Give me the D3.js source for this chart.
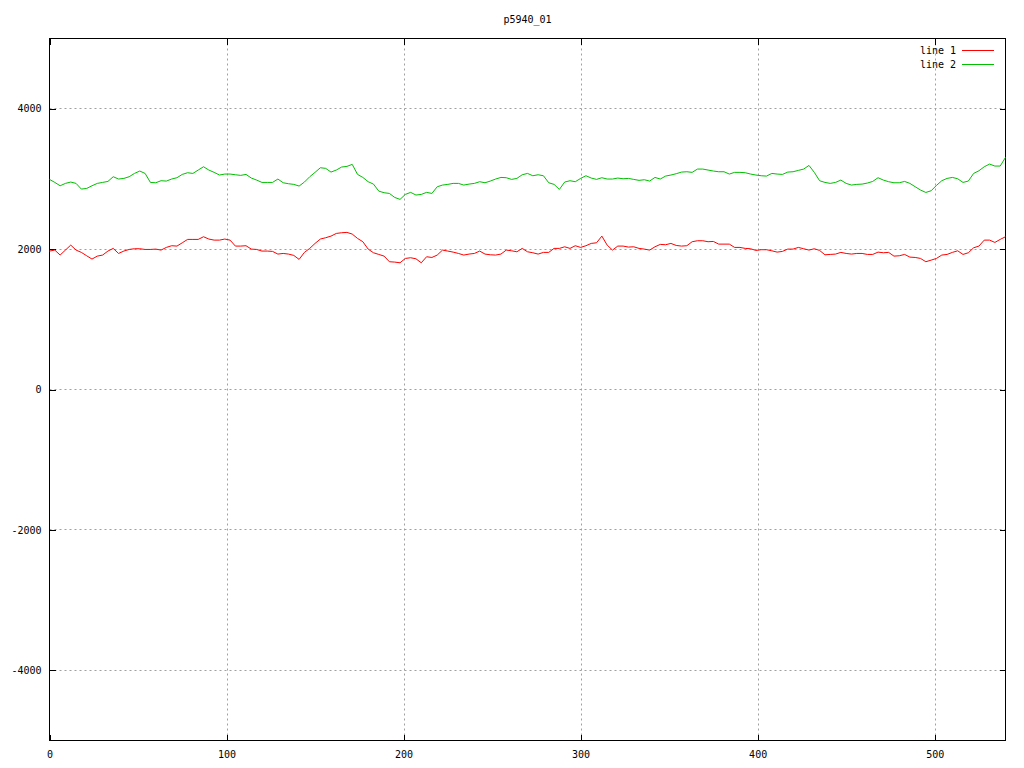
<!DOCTYPE html>
<html>
<head>
<meta charset="utf-8">
<script src="https://cdn.jsdelivr.net/npm/d3@7"></script>
<style>
  html, body { margin: 0; padding: 0; background: #fff; }
  svg { display: block; }
  text { font-family: "DejaVu Sans Mono", "Liberation Mono", monospace; font-size: 10px; fill: #000; }
</style>
</head>
<body>
<svg id="chart" width="1024" height="768"></svg>
<script>
const title = "p5940_01";
const seriesNames = ["line 1", "line 2"];
const xStep = 3;
const line1 = [
  1972,1986,1915,1986,2057,1986,1953,1905,1858,1900,1915,1972,2010,1938,1972,1995,2005,2005,1995,1995,
  2000,1986,2024,2048,2043,2090,2138,2138,2138,2176,
  2143,2128,2128,2143,2128,2043,2043,2048,2000,1995,1972,1972,1967,1929,1938,1929,1910,1853,1953,2010,
  2081,2143,2162,2185,2223,2233,2238,2214,2152,2105,
  2000,1948,1924,1900,1820,1815,1805,1867,1877,1862,1805,1891,1881,1915,1986,1972,1957,1938,1915,1929,
  1938,1972,1929,1919,1915,1929,1986,1976,1962,2010,
  1962,1948,1929,1953,1953,2010,2010,2033,2010,2048,2024,2048,2081,2090,2185,2057,1986,2043,2043,2029,
  2033,2010,2000,1986,2033,2067,2062,2081,2052,2043,
  2048,2105,2119,2119,2105,2109,2071,2071,2071,2024,2024,2010,2005,1981,1991,1991,1976,1957,1967,2000,
  2000,2024,2005,1986,2005,1981,1919,1924,1929,1953,1938,
  1929,1938,1938,1924,1924,1957,1948,1953,1900,1905,1924,1886,1881,1867,1820,1843,1867,1915,1924,1953,
  1976,1924,1948,2019,2043,2128,2128,2095,2138,2176
];
const line2 = [
  2993,2950,2902,2936,2955,2936,2855,2864,2902,2936,2950,2964,3031,2998,3007,3031,3078,3112,3078,2950,
  2945,2974,2969,2998,3017,3064,3088,3078,3126,3173,
  3126,3093,3055,3069,3069,3059,3050,3064,3012,2983,2950,2950,2950,2998,2945,2931,2922,2898,2955,3031,
  3093,3159,3150,3097,3126,3169,3178,3207,3064,3021,
  2960,2926,2826,2803,2793,2736,2708,2779,2808,2770,2779,2808,2793,2888,2912,2922,2936,2936,2912,2926,
  2936,2960,2945,2969,2998,3021,3017,2993,3007,3059,
  3078,3045,3059,3045,2945,2922,2850,2955,2974,2960,3007,3045,3012,2993,3017,2998,2998,3012,3002,3007,
  2993,2979,2988,2969,3021,2998,3040,3055,3074,3097,
  3102,3093,3140,3140,3126,3112,3102,3102,3069,3093,3093,3088,3069,3055,3045,3040,3078,3069,3064,3097,
  3102,3121,3140,3192,3093,2974,2950,2936,2950,2983,2936,
  2912,2922,2926,2941,2964,3017,2983,2960,2945,2945,2964,2936,2888,2841,2807,2831,2907,2974,3007,3021,
  3002,2950,2969,3078,3116,3173,3211,3183,3183,3306
];
const xTicks = [0, 100, 200, 300, 400, 500];
const yTicks = [-4000, -2000, 0, 2000, 4000];
const colors = ["#ff0000", "#00c000"];

// ---- layout ----
const L = 49.5, R = 1005.5, T = 38.5, B = 740.5;
const svg = d3.select("#chart");

const x = d3.scaleLinear().domain([0, 540]).range([L, R]);
const y = d3.scaleLinear().domain([-5000, 5000]).range([B, T]);

// grid
const grid = svg.append("g").attr("stroke", "#a0a0a0").attr("stroke-width", 1).attr("stroke-dasharray", "2,3");
xTicks.filter(d => d > 0).forEach(d => {
  const px = Math.round(x(d)) + 0.5;
  grid.append("line").attr("x1", px).attr("x2", px).attr("y1", T).attr("y2", B);
});
yTicks.forEach(d => {
  const py = Math.round(y(d) - 0.5) + 0.5;
  grid.append("line").attr("x1", L).attr("x2", R).attr("y1", py).attr("y2", py);
});

// axes (ticks inward, mirrored)
const tickLen = 6;
const axB = svg.append("g").attr("transform", `translate(0,${B})`)
  .call(d3.axisBottom(x).tickValues(xTicks).tickSize(-tickLen).tickPadding(10).tickFormat(d3.format("d")));
const axT = svg.append("g").attr("transform", `translate(0,${T})`)
  .call(d3.axisTop(x).tickValues(xTicks).tickSize(-tickLen).tickFormat(""));
const axL = svg.append("g").attr("transform", `translate(${L},0)`)
  .call(d3.axisLeft(y).tickValues(yTicks).tickSize(-tickLen).tickFormat(d => String(d)));
const axR = svg.append("g").attr("transform", `translate(${R},0)`)
  .call(d3.axisRight(y).tickValues(yTicks).tickSize(-tickLen).tickFormat(""));
[axB, axT, axL, axR].forEach(a => {
  a.select(".domain").remove();
  a.selectAll("line").attr("stroke", "#000").attr("shape-rendering", "crispEdges");
  a.selectAll("text").attr("font-family", "DejaVu Sans Mono, monospace").attr("font-size", 10).attr("fill", "#000");
});
axL.selectAll("text").attr("x", -8);

// border
svg.append("rect").attr("x", L).attr("y", T).attr("width", R - L).attr("height", B - T)
  .attr("fill", "none").attr("stroke", "#000").attr("stroke-width", 1).attr("shape-rendering", "crispEdges");

// lines
const lineGen = d3.line().x((d, i) => x(i * xStep)).y(d => y(d));
[line1, line2].forEach((s, k) => {
  svg.append("path").datum(s).attr("d", lineGen)
    .attr("fill", "none").attr("stroke", colors[k]).attr("stroke-width", 1);
});

// title
svg.append("text").attr("x", (L + R) / 2).attr("y", 23).attr("text-anchor", "middle").text(title);

// legend
seriesNames.forEach((n, k) => {
  const ly = 50.5 + k * 14;
  svg.append("text").attr("x", 956).attr("y", ly).attr("dy", "0.35em").attr("text-anchor", "end").text(n);
  svg.append("line").attr("x1", 962).attr("x2", 994).attr("y1", ly).attr("y2", ly)
    .attr("stroke", colors[k]).attr("stroke-width", 1);
});
</script>
</body>
</html>
